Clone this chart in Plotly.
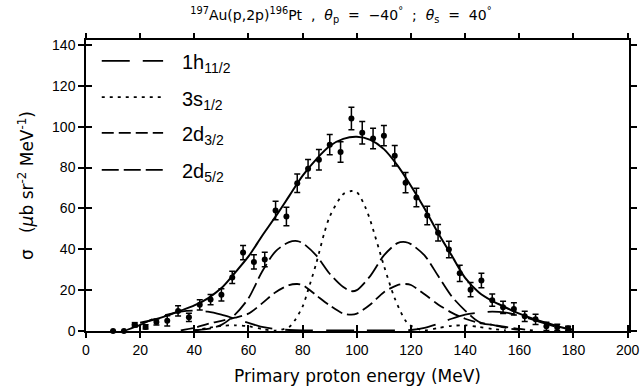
import plotly.graph_objects as go

# ---------------- data ----------------
energy = [10, 14, 18, 22, 26, 30, 34, 38, 42, 46, 50, 54, 58, 62, 66, 70, 74, 78, 82, 86,
          90, 94, 98, 102, 106, 110, 114, 118, 122, 126, 130, 134, 138, 142, 146, 150,
          154, 158, 162, 166, 170, 174, 178]
sigma = [0, 0, 3, 2, 4.4, 5, 9.8, 6.7, 12.8, 15.4, 17.7, 26.2, 38.4, 33.8, 35, 59, 56, 72.3,
         79.4, 83.8, 91.2, 87.6, 104, 97, 94.2, 95.6, 85.8, 72.6, 65.3, 56.5, 48.1, 39.9,
         28.2, 20.2, 24.7, 15.1, 11.6, 10.8, 7.2, 5.7, 2.3, 1.8, 1.3]
sigma_err = [0, 0, 0, 1, 1.5, 2.5, 2.5, 2, 2.5, 2.5, 3, 3, 3.5, 3.5, 3.5, 4.5, 4.5, 4.5, 4.5, 5,
             5, 5, 5.5, 5.5, 5, 5, 5, 5, 4.5, 4.5, 4, 4, 4, 3.5, 3.5, 3, 3, 3, 2.5, 2.5, 2,
             1.5, 1]

total_x = [20, 25, 30, 35, 40, 45, 50, 55, 60, 65, 70, 75, 80, 85, 90, 95, 100, 105, 110,
           115, 120, 125, 130, 135, 140, 145, 150, 155, 160, 165, 170, 175, 180]
total_y = [4, 5.5, 7.5, 10, 12.5, 16, 21, 28.5, 36.5, 46.5, 56, 66, 76, 84, 90.5, 94, 95,
           93.5, 89, 81, 71, 60, 48, 37, 26, 19, 14.7, 11.5, 8.5, 6, 4, 2, 0.6]

h112_x = [15, 20, 25, 30, 35, 40, 45, 50, 55, 60, 65, 70, 75, 80, 90, 100, 110, 120, 125,
          130, 135, 140, 145, 150, 155, 160, 165, 170, 175, 180]
h112_y = [0.5, 3, 6, 8, 9.5, 10, 9.5, 8, 6, 4, 2, 1, 0.5, 0.3, 0.3, 0.3, 0.3, 0.5, 1.5,
          3.5, 6, 8, 9, 9.5, 9, 7.5, 5.5, 3.5, 1.5, 0.5]

s12_x = [40, 45, 50, 55, 60, 65, 70, 75, 77, 80, 82, 85, 88, 90, 95, 98, 100, 103, 105, 110,
         114, 118, 120, 125, 130, 135, 140, 145, 150, 155]
s12_y = [0.3, 1.5, 2.5, 2.8, 2.3, 1, 0.2, 2, 5, 12, 20, 33, 48, 56, 67, 68.5, 68, 61, 54, 32,
         16, 5, 2.5, 0.3, 1.5, 2.5, 2.8, 2, 1, 0.3]

d32_x = [35, 40, 45, 50, 55, 60, 65, 70, 75, 78, 80, 85, 90, 95, 98, 100, 105, 110, 115, 118,
         120, 125, 130, 135, 140, 145, 150, 155, 160, 165]
d32_y = [0.3, 1.5, 3.5, 5, 6.5, 8.5, 13.5, 19, 22.5, 23, 22.5, 17.5, 12.5, 8.5, 8, 8.5, 13,
         19, 22.5, 23, 22.5, 18, 13, 9, 6, 4, 3, 2, 1, 0.3]

d52_x = [40, 45, 50, 55, 60, 65, 70, 75, 78, 80, 85, 90, 95, 98, 100, 105, 110, 115, 118, 120,
         125, 130, 135, 140, 145, 150, 155, 160]
d52_y = [0.3, 1, 3, 8, 16, 29, 39, 43.5, 44, 43, 37, 28, 21.5, 19.5, 20, 27, 37, 43, 43.5,
         42.5, 37, 27, 17, 10, 4.5, 3, 1.5, 0.5]

legend_labels = ["1h<sub>11/2</sub>", "3s<sub>1/2</sub>", "2d<sub>3/2</sub>", "2d<sub>5/2</sub>"]
x_ticks = list(range(0, 201, 20))
y_ticks = list(range(0, 141, 20))

# ---------------- styles ----------------
DASH_H = "28px,13px"
DASH_S = "3px,5px"
DASH_D32 = "12px,5px"
DASH_D52 = "17px,5px"
legend_dashes = [DASH_H, DASH_S, DASH_D32, DASH_D52]
LW = 1.8

fig = go.Figure()

components = [(h112_x, h112_y, DASH_H), (s12_x, s12_y, DASH_S),
              (d32_x, d32_y, DASH_D32), (d52_x, d52_y, DASH_D52)]
for cx, cy, dsh in components:
    fig.add_trace(go.Scatter(x=cx, y=cy, mode="lines",
                             line=dict(color="black", width=LW, dash=dsh,
                                       shape="spline", smoothing=0.8),
                             showlegend=False, hoverinfo="skip"))

fig.add_trace(go.Scatter(x=total_x, y=total_y, mode="lines",
                         line=dict(color="black", width=2, shape="spline", smoothing=0.8),
                         showlegend=False))

symbols = ["square" if e == 18 else "circle" for e in energy]
fig.add_trace(go.Scatter(x=energy, y=sigma, mode="markers",
                         marker=dict(color="black", size=6, symbol=symbols),
                         error_y=dict(type="data", array=sigma_err, color="black",
                                      thickness=1.5, width=3),
                         cliponaxis=False, showlegend=False))

# dummy trace for the secondary (inside-tick) axes
fig.add_trace(go.Scatter(x=[None], y=[None], xaxis="x2", yaxis="y2",
                         showlegend=False, hoverinfo="skip"))

# ---------------- manual legend ----------------
leg_y = [0.928, 0.804, 0.681, 0.554]
for lab, dsh, yy in zip(legend_labels, legend_dashes, leg_y):
    fig.add_shape(type="line", xref="paper", yref="paper", x0=0.029, x1=0.142,
                  y0=yy, y1=yy, line=dict(color="black", width=LW, dash=dsh))
    fig.add_annotation(xref="paper", yref="paper", x=0.173, y=yy, text=lab,
                       showarrow=False, xanchor="left", yanchor="middle", yshift=-3,
                       font=dict(family="Liberation Sans", size=20, color="black"))

tickfont = dict(family="Liberation Sans", size=14, color="black")
XR = [0, 200.5]
YR = [0, 142.4]

fig.update_layout(
    width=642, height=389,
    margin=dict(l=86, r=13, t=40, b=57.5),
    paper_bgcolor="white", plot_bgcolor="white",
    title=dict(text="<sup>197</sup>Au(p,2p)<sup>196</sup>Pt\u00a0\u00a0,\u00a0\u00a0<i>θ</i><sub>p</sub>\u00a0\u00a0=\u00a0\u00a0−40<sup>°</sup>\u00a0\u00a0;\u00a0\u00a0<i>θ</i><sub>s</sub>\u00a0\u00a0=\u00a0\u00a040<sup>°</sup>",
               x=0.531, xref="container", xanchor="center",
               y=0.962, yref="container", yanchor="middle",
               font=dict(family="DejaVu Sans", size=14, color="black")),
    xaxis=dict(range=XR, tickvals=x_ticks, ticks="outside", ticklen=5, tickwidth=1.5,
               tickcolor="black", showline=True, linecolor="black", linewidth=1.5,
               mirror="ticks", showgrid=False, zeroline=False, tickfont=tickfont,
               automargin=False,
               title=dict(text="Primary proton energy (MeV)",
                          font=dict(family="DejaVu Sans", size=17, color="black"),
                          standoff=14)),
    yaxis=dict(range=YR, tickvals=y_ticks, ticks="outside", ticklen=6, tickwidth=1.5,
               tickcolor="black", showline=True, linecolor="black", linewidth=1.5,
               mirror="ticks", showgrid=False, zeroline=False, tickfont=tickfont,
               automargin=False,
               title=dict(text="σ\u00a0\u00a0\u00a0(<i>μ</i>b sr<sup>-2</sup> MeV<sup>-1</sup>)",
                          font=dict(family="DejaVu Sans", size=17, color="black"),
                          standoff=14)),
    xaxis2=dict(range=XR, overlaying="x", anchor="y", side="bottom", tickvals=x_ticks,
                ticks="inside", ticklen=6, tickwidth=1.5, tickcolor="black",
                showticklabels=False, showline=False, showgrid=False, zeroline=False),
    yaxis2=dict(range=YR, overlaying="y", anchor="x", side="left", tickvals=y_ticks,
                ticks="inside", ticklen=6, tickwidth=1.5, tickcolor="black",
                showticklabels=False, showline=False, showgrid=False, zeroline=False),
    showlegend=False,
)

fig.write_html("out.html")
